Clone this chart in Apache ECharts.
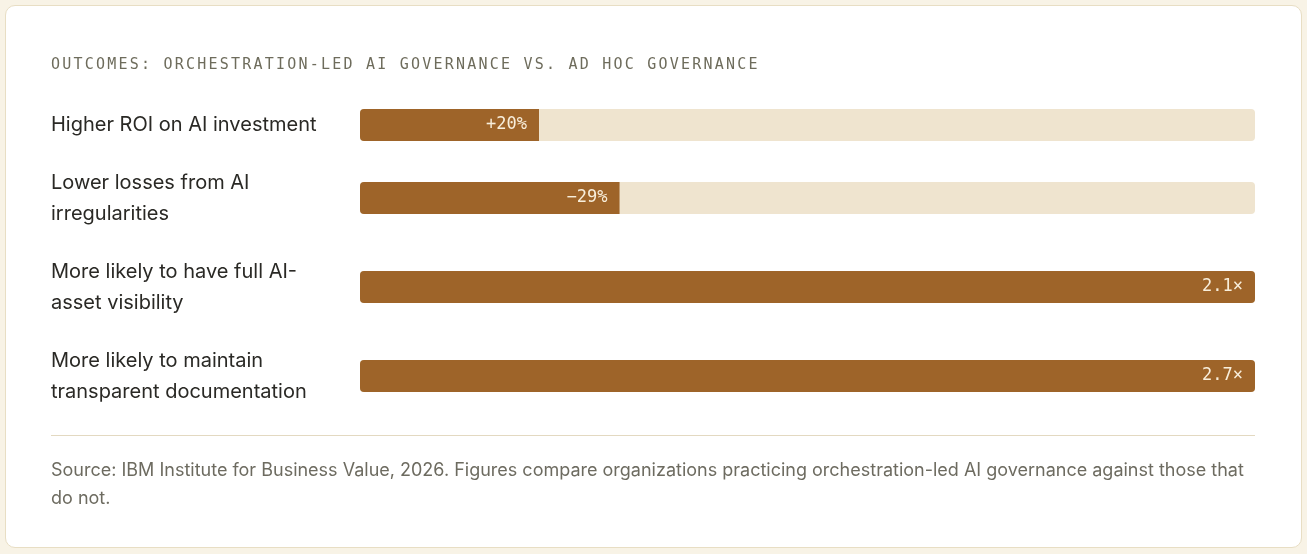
<!DOCTYPE html>
<html>
<head>
<meta charset="utf-8">
<script src="https://cdn.jsdelivr.net/npm/echarts@6/dist/echarts.min.js"></script>
<style>
  html, body { margin: 0; padding: 0; width: 1307px; height: 554px; background: #f8f3e6; overflow: hidden; }
  #card { position: absolute; left: 5px; top: 5px; width: 1295px; height: 541px; background: #ffffff; border: 1px solid #e8dec4; border-radius: 10px; }
  #title { position: absolute; left: 51px; top: 54px; height: 20px; line-height: 20px; font-family: "DejaVu Sans Mono", monospace; font-size: 15px; letter-spacing: 2.22px; color: #6e6c5c; white-space: nowrap; z-index: 2; }
  #chart { position: absolute; left: 0; top: 0; width: 1307px; height: 554px; z-index: 1; }
  #divider { position: absolute; left: 51px; top: 435px; width: 1204px; height: 1px; background: #e3d9c1; z-index: 2; }
  #note { position: absolute; left: 51px; top: 456px; width: 1204px; font-family: Inter, "Noto Sans", sans-serif; font-size: 18px; line-height: 28px; color: #6d6b60; z-index: 2; }
</style>
</head>
<body>
<div id="card"></div>
<div id="chart"></div>
<div id="title">OUTCOMES: ORCHESTRATION-LED AI GOVERNANCE VS. AD HOC GOVERNANCE</div>
<div id="divider"></div>
<div id="note">Source: IBM Institute for Business Value, 2026. Figures compare organizations practicing orchestration-led AI governance against those that do not.</div>
<script>
// ---- data ----
var categories = [
  'Higher ROI on AI investment',
  'Lower losses from AI\nirregularities',
  'More likely to have full AI-\nasset visibility',
  'More likely to maintain\ntransparent documentation'
];
var fillPercent = [20, 29, 100, 100];
var valueLabels = ['+20%', '\u221229%', '2.1\u00d7', '2.7\u00d7'];

// ---- layout (page pixels) ----
var rowCenters = [125, 198, 287, 376];
var barH = 32;
var trackLeft = 360, trackRight = 1255, labelLeft = 51;

var grids = [], xAxes = [], yAxes = [], series = [];
categories.forEach(function (cat, i) {
  grids.push({ left: trackLeft, right: 1307 - trackRight, top: rowCenters[i] - barH / 2, height: barH, containLabel: false });
  xAxes.push({ type: 'value', gridIndex: i, min: 0, max: 100, show: false });
  yAxes.push({
    type: 'category', gridIndex: i, data: [cat],
    axisLine: { show: false }, axisTick: { show: false }, splitLine: { show: false },
    axisLabel: {
      align: 'left', margin: trackLeft - labelLeft,
      fontFamily: 'Inter, "Noto Sans", sans-serif', fontSize: 20, lineHeight: 31, color: '#2a2925'
    }
  });
  var full = fillPercent[i] >= 100;
  series.push({
    type: 'bar', xAxisIndex: i, yAxisIndex: i,
    barWidth: barH,
    showBackground: true,
    backgroundStyle: { color: '#efe4cf', borderRadius: 4 },
    silent: true,
    data: [{
      value: fillPercent[i],
      itemStyle: { color: '#9e6429', borderRadius: full ? 4 : [4, 0, 0, 4] }
    }],
    label: {
      show: true, position: 'insideRight', distance: 12,
      formatter: function () { return valueLabels[i]; },
      fontFamily: '"DejaVu Sans Mono", monospace', fontSize: 17, color: '#f8eedb'
    }
  });
});

var chart = echarts.init(document.getElementById('chart'), null, { renderer: 'canvas' });
chart.setOption({
  animation: false,
  grid: grids,
  xAxis: xAxes,
  yAxis: yAxes,
  series: series
});
</script>
</body>
</html>
